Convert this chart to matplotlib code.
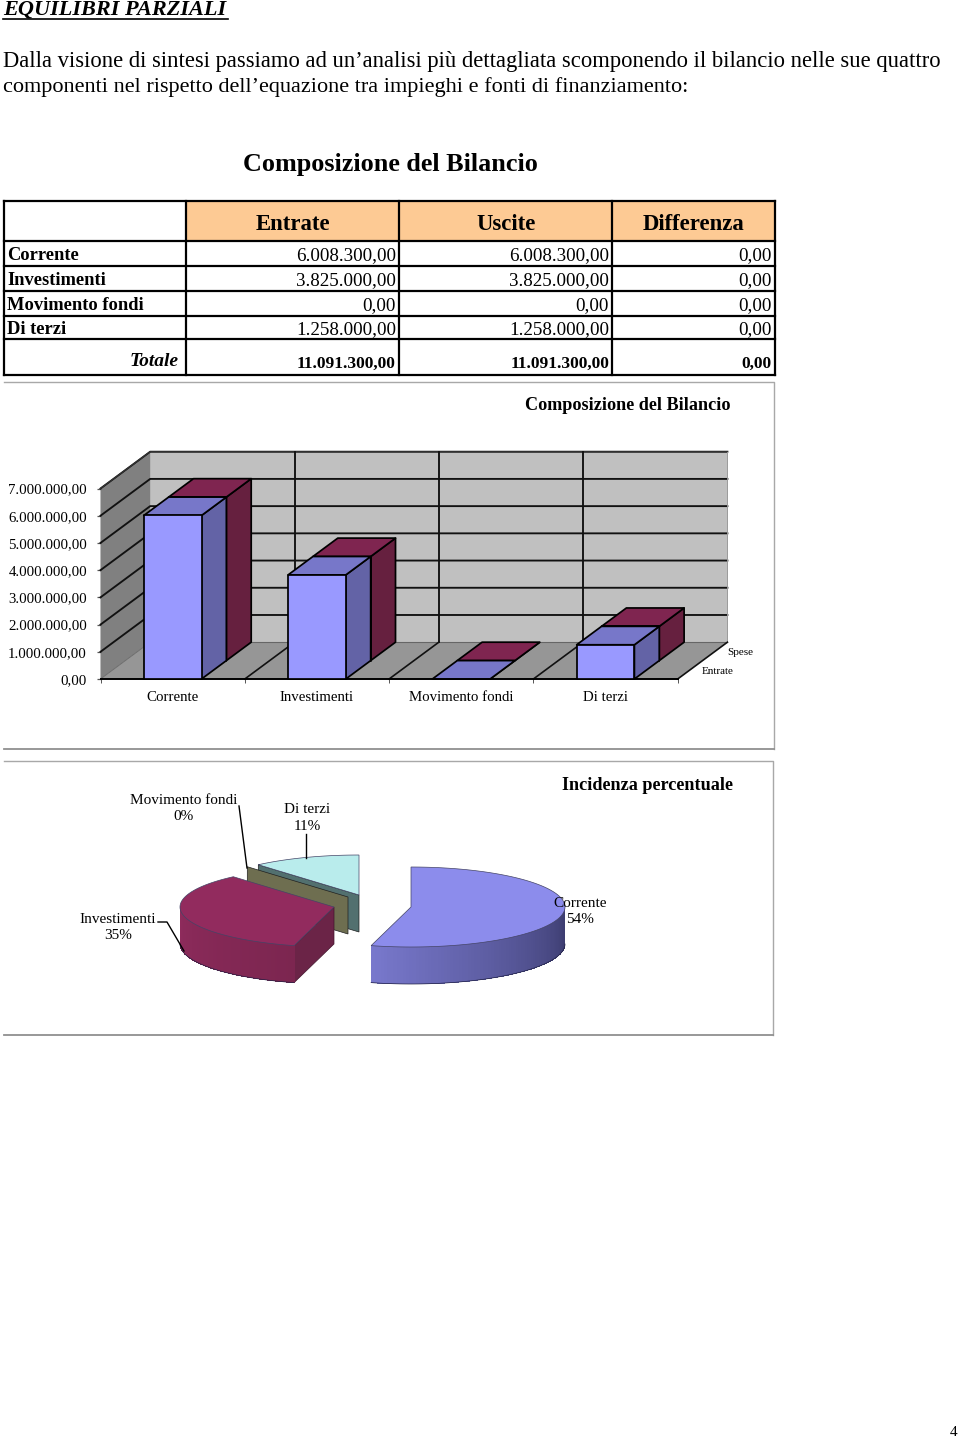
import matplotlib
matplotlib.use("Agg")
import matplotlib.pyplot as plt
import numpy as np
from matplotlib.patches import Polygon

plt.rcParams['font.family'] = ['Liberation Serif', 'DejaVu Serif']

categories = ["Corrente", "Investimenti", "Movimento fondi", "Di terzi"]
entrate = [6008300, 3825000, 0, 1258000]
uscite = [6008300, 3825000, 0, 1258000]
differenza = [0, 0, 0, 0]
percentuali = [54, 35, 0, 11]
series_names = ["Entrate", "Spese"]
table_head = ["Entrate", "Uscite", "Differenza"]
value_ticks = [0, 1000000, 2000000, 3000000, 4000000, 5000000, 6000000, 7000000]


def fmt(v):
    return f"{v:,.2f}".replace(",", "#").replace(".", ",").replace("#", ".")


fig = plt.figure(figsize=(9.6, 14.38), dpi=100)
page = fig.add_axes([0, 0, 1, 1])
page.set_xlim(0, 960)
page.set_ylim(1438, 0)
page.axis("off")

# testo della pagina
page.text(3, 9, "EQUILIBRI PARZIALI", fontsize=16, fontweight="bold", style="italic", va="center")
page.plot([3, 228], [19, 19], color="k", lw=1.2)
page.text(3, 62, "Dalla visione di sintesi passiamo ad un\u2019analisi più dettagliata scomponendo il bilancio nelle sue quattro",
          fontsize=16.28, va="center")
page.text(3, 87, "componenti nel rispetto dell\u2019equazione tra impieghi e fonti di finanziamento:",
          fontsize=16.05, va="center")
page.text(243, 165, "Composizione del Bilancio", fontsize=18.85, fontweight="bold", va="center")
page.text(954, 1432, "4", fontsize=11, ha="center", va="center")

# tabella
col_x = [4, 186, 399, 612, 775]
row_y = [201, 241, 266, 291, 316, 339, 375]
for i in range(3):
    page.fill_between([col_x[i + 1], col_x[i + 2]], row_y[0], row_y[1], color="#fdca94", lw=0)
    page.text((col_x[i + 1] + col_x[i + 2]) / 2 + 0.5, 224, table_head[i], fontsize=16.4, fontweight="bold",
              ha="center", va="center")
for y in row_y:
    page.plot([col_x[0], col_x[-1]], [y, y], color="k", lw=1.6, solid_capstyle="projecting")
for x in col_x:
    page.plot([x, x], [row_y[0], row_y[-1]], color="k", lw=1.6, solid_capstyle="projecting")
for i, name in enumerate(categories):
    yc = (row_y[i + 1] + row_y[i + 2]) / 2
    page.text(7, yc + 2, name, fontsize=13.3, fontweight="bold", va="center")
    for j, vals in enumerate([entrate, uscite, differenza]):
        page.text(col_x[j + 2] - 3, yc + 2.5, fmt(vals[i]), fontsize=13.7, ha="right", va="center")
page.text(179, 362, "Totale", fontsize=14, fontweight="bold", style="italic", ha="right", va="center")
for j, vals in enumerate([entrate, uscite, differenza]):
    page.text(col_x[j + 2] - 3, 364, fmt(sum(vals)), fontsize=12.6, fontweight="bold", ha="right", va="center")

# cornici dei grafici
for top, bottom, right in [(382, 749, 774), (761, 1035, 773)]:
    page.plot([4, right, right], [top, top, bottom], color="#a8a8a8", lw=1)
    page.plot([4, right], [bottom, bottom], color="#909090", lw=1.3)
page.text(628, 405, "Composizione del Bilancio", fontsize=13.05, fontweight="bold", ha="center", va="center")
page.text(648, 785, "Incidenza percentuale", fontsize=13.1, fontweight="bold", ha="center", va="center")

# grafico a barre 3D
ax = fig.add_axes([100.5 / 960, 1 - 679 / 1438, 577.2 / 960, 190.5 / 1438])
ax.patch.set_visible(False)
ax.set_xlim(0, 4)
ax.set_ylim(0, 7000000)
for s in ["top", "right"]:
    ax.spines[s].set_visible(False)
ax.spines["left"].set_color("#808080")
ax.spines["bottom"].set_linewidth(1.4)
ax.spines["left"].set_zorder(1)
ax.set_yticks(value_ticks)
ax.set_yticklabels([fmt(v) for v in value_ticks], fontsize=10.7)
ax.set_xticks(range(5))
ax.set_xticklabels([])
ax.set_xticks(np.arange(4) + 0.5, categories, minor=True, fontsize=10.7)
ax.tick_params(axis="x", which="minor", length=0, pad=9)
ax.tick_params(axis="x", which="major", length=3, width=0.7, color="#555555")
ax.tick_params(axis="y", length=3, width=0.9, color="#555555", pad=6.8)

DX = 24.85 / 144.3
DY = 18.4 / 190.5 * 7000000


def pt(x, v, d):
    return (x + d * DX, v + d * DY)


def quad(points, color, z, edge="k", lw=1.25):
    ax.add_patch(Polygon(points, closed=True, facecolor=color, edgecolor=edge, lw=lw,
                         clip_on=False, joinstyle="round", zorder=z))


top_val = value_ticks[-1]
quad([pt(0, 0, 2), pt(4, 0, 2), pt(4, top_val, 2), pt(0, top_val, 2)], "#c0c0c0", 1, edge="none")
quad([pt(0, 0, 0), pt(0, 0, 2), pt(0, top_val, 2), pt(0, top_val, 0)], "#808080", 1, edge="none")
quad([pt(0, 0, 0), pt(4, 0, 0), pt(4, 0, 2), pt(0, 0, 2)], "#969696", 1, edge="none")
for v in value_ticks:
    xs, ys = zip(pt(0, v, 0), pt(0, v, 2), pt(4, v, 2))
    if v == 0:
        ax.plot(xs[1:], ys[1:], color="#666666", lw=0.8, clip_on=False, zorder=2)
        ax.plot(xs[:2], ys[:2], color="#666666", lw=0.6, clip_on=False, zorder=2)
    else:
        ax.plot(xs, ys, color="#111111", lw=1.35, clip_on=False, zorder=2)
ax.plot(*zip(pt(0, top_val, 0), pt(0, top_val, 2), pt(4, top_val, 2)), color="#333333", lw=0.9, clip_on=False, zorder=2)
ax.plot(*zip(pt(4, 0, 2), pt(4, top_val, 2)), color="#999999", lw=0.7, clip_on=False, zorder=2)
ax.plot(*zip(pt(4, 0, 0), pt(4, 0, 2)), color="#111111", lw=1.2, clip_on=False, zorder=2)
for i in range(1, 4):
    ax.plot(*zip(pt(i, 0, 2), pt(i, top_val, 2)), color="#111111", lw=1.35, clip_on=False, zorder=2)
    ax.plot(*zip(pt(i, 0, 0), pt(i, 0, 2)), color="#111111", lw=1.2, clip_on=False, zorder=2)

bar_w = 0.4
for d0, vals, front, top, side, z in [(1, uscite, "#993366", "#7f2550", "#66203f", 3),
                                      (0, entrate, "#9999ff", "#7777c9", "#6363a6", 4)]:
    for i, v in enumerate(vals):
        x0 = i + 0.5 - bar_w / 2
        x1 = x0 + bar_w
        d1 = d0 + 1
        quad([pt(x1, 0, d0), pt(x1, 0, d1), pt(x1, v, d1), pt(x1, v, d0)], side, z)
        quad([pt(x0, v, d0), pt(x1, v, d0), pt(x1, v, d1), pt(x0, v, d1)], top, z)
        quad([pt(x0, 0, d0), pt(x1, 0, d0), pt(x1, v, d0), pt(x0, v, d0)], front, z)

for name, d in zip(series_names, [0.5, 1.5]):
    ax.annotate(name, pt(4, 0, d), textcoords="offset points", xytext=(8.6, -1), fontsize=8,
                va="center", ha="left", annotation_clip=False)

# torta 3D
A, B, H = 154, 40, 37
angoli = np.array(entrate) / sum(entrate) * 360
ends = np.cumsum(angoli)
starts = ends - angoli
centers = [(411, 907), (334, 907), (348, 897), (359, 895)]
side_from = ["#7878cc", "#7c2650", "#6e6e50", "#52706f"]
side_to = ["#39396a", "#8e2b5c", "#6e6e50", "#52706f"]
tops = ["#8c8cec", "#922b5e", "#6e6e50", "#b9ecec"]
walls = ["#5f5fa0", "#6b2447", "#6e6e50", "#52706f"]


def rim(c, a):
    a = np.radians(a)
    return c[0] + A * np.sin(a), c[1] - B * np.cos(a)


def blend(c1, c2, t):
    c1 = np.array(matplotlib.colors.to_rgb(c1))
    c2 = np.array(matplotlib.colors.to_rgb(c2))
    return c1 + (c2 - c1) * t


for i in [3, 2, 1, 0]:
    c = centers[i]
    z = 5 + (3 - i)
    p0 = rim(c, starts[i])
    # pareti piane
    if i == 1:
        page.add_patch(Polygon([c, p0, (p0[0], p0[1] + H), (c[0], c[1] + H)], facecolor=walls[i],
                               edgecolor="#40152c", lw=0.5, zorder=z))
    if i in (2, 3):
        page.add_patch(Polygon([p0, c, (c[0], c[1] + H), (p0[0], p0[1] + H)], facecolor=walls[i],
                               edgecolor="#202020", lw=0.5, zorder=z))
    # bordo curvo
    if angoli[i] > 0:
        lo, hi = max(starts[i], 90), min(ends[i], 270)
        if hi > lo:
            ang = np.linspace(lo, hi, 90)
            for k in range(len(ang) - 1):
                q0, q1 = rim(c, ang[k]), rim(c, ang[k + 1])
                t = 1 - (k / (len(ang) - 2)) if i == 0 else k / (len(ang) - 2)
                page.add_patch(Polygon([q0, q1, (q1[0], q1[1] + H), (q0[0], q0[1] + H)],
                                       facecolor=blend(side_from[i], side_to[i], t),
                                       edgecolor="none", zorder=z, antialiased=False))
            ex, ey = zip(*[rim(c, a) for a in ang])
            page.plot(ex, np.array(ey) + H, color="#222244", lw=0.5, zorder=z)
        ang = np.linspace(starts[i], ends[i], 120)
        xs, ys = zip(*[rim(c, a) for a in ang])
        page.add_patch(Polygon([c] + list(zip(xs, ys)), facecolor=tops[i], edgecolor="#444466",
                               lw=0.5, zorder=z + 0.5))

lab = [f"{n}\n{p}%" for n, p in zip(categories, percentuali)]
for s, x, y in zip(lab, [580, 118, 184, 307], [911.5, 927.5, 808.5, 818]):
    page.text(x, y, s, fontsize=11, ha="center", va="center", linespacing=1.33, zorder=20)
page.plot([239, 247], [806, 868], color="k", lw=1, zorder=20)
page.plot([306, 306], [834, 858], color="k", lw=1, zorder=20)
page.plot([158, 167, 184], [922, 922, 951], color="k", lw=1, zorder=20)

fig.savefig("out.png", dpi=100)
